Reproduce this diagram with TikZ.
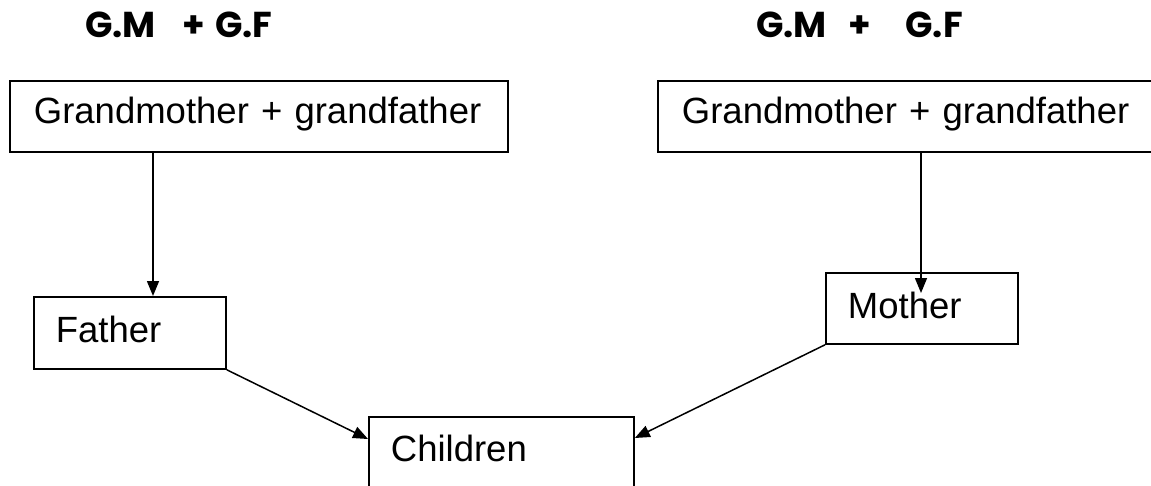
\documentclass[tikz,border=0pt]{standalone}
\usepackage{fontspec}
\setmainfont{Liberation Sans}
\newfontfamily\headfont{Poppins}
\usetikzlibrary{arrows.meta,calc}

\tikzset{
  x=1pt, y=-1pt,
  famline/.style={line width=1.8pt},
  fambox/.style={draw, famline, rectangle, anchor=north west, align=left,
    inner ysep=0pt, font=\fontsize{36.5}{40}\selectfont,
    execute at begin node={\hyphenpenalty=10000\relax}},
  arr/.style={line width=1.5pt, -{Triangle[length=15pt,width=12pt]}},
  heading/.style={anchor=base west, inner sep=0pt,
    font=\headfont\bfseries\fontsize{36}{40}\selectfont}
}

\begin{document}
\begin{tikzpicture}
\useasboundingbox (0,0) rectangle (1151,485);
\clip (0,0) rectangle (1151,485);

% headings over the two sides of the family
\node[heading] (hl) at (85,37) {G.M\hspace{27pt}+\hspace{10pt}G.F};
\node[heading] (hr) at (756,37) {G.M\hspace{22pt}+\hspace{34pt}G.F};

% grandparents
\node[fambox, inner xsep=24pt, text width=450pt, text height=43pt, text depth=28pt]
  (gl) at (9,80) {Grandmother + grandfather};
\node[fambox, inner xsep=24pt, text width=465pt, text height=43pt, text depth=28pt]
  (gr) at (657,80) {Grandmother + grandfather};

% parents
\node[fambox, inner xsep=22pt, text width=148pt, text height=46pt, text depth=26pt]
  (father) at (33,296) {Father};
\node[fambox, inner xsep=22pt, text width=148pt, text height=46pt, text depth=25pt]
  (mother) at (825,272) {Mother};

% child
\node[fambox, inner xsep=22pt, text width=221pt, text height=45pt, text depth=49pt]
  (children) at (368,416) {Children};

% connectors
\coordinate (xl) at (153,0);
\coordinate (xr) at (921,0);
\coordinate (mtip) at (921,293);
\draw[arr] (gl.south -| xl) -- (father.north -| xl);
\draw[arr] (gr.south -| xr) -- (mtip);
\draw[arr] (father.south east) -- ($(children.north west)+(0,23)$);
\draw[arr] (mother.south west) -- ($(children.north east)+(0,22)$);
\end{tikzpicture}
\end{document}
